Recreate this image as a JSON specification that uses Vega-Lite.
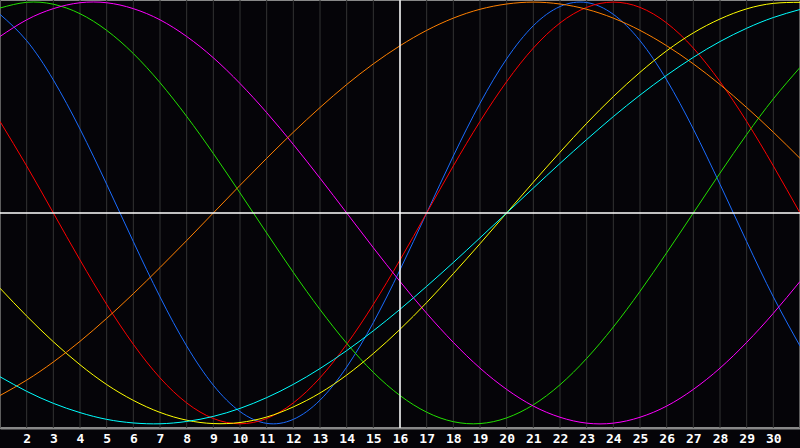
{
  "$schema": "https://vega.github.io/schema/vega-lite/v6.json",
  "width": 800,
  "height": 428,
  "padding": {"left": 0, "top": 0, "right": 0, "bottom": 20},
  "autosize": {"type": "none"},
  "background": "#050408",
  "config": {
    "view": {"stroke": "#888888", "strokeWidth": 2},
    "axis": {"labelOverlap": false, "labelFlush": false, "labelBound": false}
  },
  "encoding": {
    "x": {
      "field": "day", "type": "quantitative",
      "scale": {"domain": [1, 31], "nice": false, "zero": false},
      "axis": {
        "values": [2,3,4,5,6,7,8,9,10,11,12,13,14,15,16,17,18,19,20,21,22,23,24,25,26,27,28,29,30],
        "title": null, "ticks": false, "grid": false,
        "domainColor": "#888888", "domainWidth": 2,
        "labelColor": "#ffffff", "labelFont": "DejaVu Sans Mono", "labelFontWeight": "bold", "labelFontSize": 13,
        "labelPadding": 4, "labelFlush": false, "labelOverlap": false
      }
    }
  },
  "layer": [
    {
      "data": {"values": [
        {"day":1},{"day":2},{"day":3},{"day":4},{"day":5},{"day":6},{"day":7},{"day":8},{"day":9},{"day":10},{"day":11},{"day":12},{"day":13},{"day":14},{"day":15},{"day":16},
        {"day":17},{"day":18},{"day":19},{"day":20},{"day":21},{"day":22},{"day":23},{"day":24},{"day":25},{"day":26},{"day":27},{"day":28},{"day":29},{"day":30},{"day":31}
      ]},
      "mark": {"type": "rule", "color": "#333333", "strokeWidth": 1},
      "encoding": {}
    },
    {
      "data": {"values": [
        {"day":1,"cycle":"Physical","value":0.942},{"day":2,"cycle":"Physical","value":0.817},{"day":3,"cycle":"Physical","value":0.631},{"day":4,"cycle":"Physical","value":0.398},{"day":5,"cycle":"Physical","value":0.136},{"day":6,"cycle":"Physical","value":-0.136},{"day":7,"cycle":"Physical","value":-0.398},{"day":8,"cycle":"Physical","value":-0.631},{"day":9,"cycle":"Physical","value":-0.817},{"day":10,"cycle":"Physical","value":-0.942},{"day":11,"cycle":"Physical","value":-0.998},{"day":12,"cycle":"Physical","value":-0.979},{"day":13,"cycle":"Physical","value":-0.888},{"day":14,"cycle":"Physical","value":-0.731},{"day":15,"cycle":"Physical","value":-0.520},{"day":16,"cycle":"Physical","value":-0.270},{"day":17,"cycle":"Physical","value":0},{"day":18,"cycle":"Physical","value":0.270},{"day":19,"cycle":"Physical","value":0.520},{"day":20,"cycle":"Physical","value":0.731},{"day":21,"cycle":"Physical","value":0.888},{"day":22,"cycle":"Physical","value":0.979},{"day":23,"cycle":"Physical","value":0.998},{"day":24,"cycle":"Physical","value":0.942},{"day":25,"cycle":"Physical","value":0.817},{"day":26,"cycle":"Physical","value":0.631},{"day":27,"cycle":"Physical","value":0.398},{"day":28,"cycle":"Physical","value":0.136},{"day":29,"cycle":"Physical","value":-0.136},{"day":30,"cycle":"Physical","value":-0.398},{"day":31,"cycle":"Physical","value":-0.631},
        {"day":1,"cycle":"Emotional","value":0.434},{"day":2,"cycle":"Emotional","value":0.223},{"day":3,"cycle":"Emotional","value":0},{"day":4,"cycle":"Emotional","value":-0.223},{"day":5,"cycle":"Emotional","value":-0.434},{"day":6,"cycle":"Emotional","value":-0.623},{"day":7,"cycle":"Emotional","value":-0.782},{"day":8,"cycle":"Emotional","value":-0.901},{"day":9,"cycle":"Emotional","value":-0.975},{"day":10,"cycle":"Emotional","value":-1},{"day":11,"cycle":"Emotional","value":-0.975},{"day":12,"cycle":"Emotional","value":-0.901},{"day":13,"cycle":"Emotional","value":-0.782},{"day":14,"cycle":"Emotional","value":-0.623},{"day":15,"cycle":"Emotional","value":-0.434},{"day":16,"cycle":"Emotional","value":-0.223},{"day":17,"cycle":"Emotional","value":0},{"day":18,"cycle":"Emotional","value":0.223},{"day":19,"cycle":"Emotional","value":0.434},{"day":20,"cycle":"Emotional","value":0.623},{"day":21,"cycle":"Emotional","value":0.782},{"day":22,"cycle":"Emotional","value":0.901},{"day":23,"cycle":"Emotional","value":0.975},{"day":24,"cycle":"Emotional","value":1},{"day":25,"cycle":"Emotional","value":0.975},{"day":26,"cycle":"Emotional","value":0.901},{"day":27,"cycle":"Emotional","value":0.782},{"day":28,"cycle":"Emotional","value":0.623},{"day":29,"cycle":"Emotional","value":0.434},{"day":30,"cycle":"Emotional","value":0.223},{"day":31,"cycle":"Emotional","value":0},
        {"day":1,"cycle":"Intellectual","value":0.972},{"day":2,"cycle":"Intellectual","value":0.999},{"day":3,"cycle":"Intellectual","value":0.990},{"day":4,"cycle":"Intellectual","value":0.945},{"day":5,"cycle":"Intellectual","value":0.866},{"day":6,"cycle":"Intellectual","value":0.756},{"day":7,"cycle":"Intellectual","value":0.618},{"day":8,"cycle":"Intellectual","value":0.458},{"day":9,"cycle":"Intellectual","value":0.282},{"day":10,"cycle":"Intellectual","value":0.095},{"day":11,"cycle":"Intellectual","value":-0.095},{"day":12,"cycle":"Intellectual","value":-0.282},{"day":13,"cycle":"Intellectual","value":-0.458},{"day":14,"cycle":"Intellectual","value":-0.618},{"day":15,"cycle":"Intellectual","value":-0.756},{"day":16,"cycle":"Intellectual","value":-0.866},{"day":17,"cycle":"Intellectual","value":-0.945},{"day":18,"cycle":"Intellectual","value":-0.990},{"day":19,"cycle":"Intellectual","value":-0.999},{"day":20,"cycle":"Intellectual","value":-0.972},{"day":21,"cycle":"Intellectual","value":-0.910},{"day":22,"cycle":"Intellectual","value":-0.815},{"day":23,"cycle":"Intellectual","value":-0.690},{"day":24,"cycle":"Intellectual","value":-0.541},{"day":25,"cycle":"Intellectual","value":-0.372},{"day":26,"cycle":"Intellectual","value":-0.189},{"day":27,"cycle":"Intellectual","value":0},{"day":28,"cycle":"Intellectual","value":0.189},{"day":29,"cycle":"Intellectual","value":0.372},{"day":30,"cycle":"Intellectual","value":0.541},{"day":31,"cycle":"Intellectual","value":0.690},
        {"day":1,"cycle":"Intuitive","value":0.837},{"day":2,"cycle":"Intuitive","value":0.916},{"day":3,"cycle":"Intuitive","value":0.969},{"day":4,"cycle":"Intuitive","value":0.997},{"day":5,"cycle":"Intuitive","value":0.997},{"day":6,"cycle":"Intuitive","value":0.969},{"day":7,"cycle":"Intuitive","value":0.916},{"day":8,"cycle":"Intuitive","value":0.837},{"day":9,"cycle":"Intuitive","value":0.736},{"day":10,"cycle":"Intuitive","value":0.614},{"day":11,"cycle":"Intuitive","value":0.476},{"day":12,"cycle":"Intuitive","value":0.325},{"day":13,"cycle":"Intuitive","value":0.165},{"day":14,"cycle":"Intuitive","value":0},{"day":15,"cycle":"Intuitive","value":-0.165},{"day":16,"cycle":"Intuitive","value":-0.325},{"day":17,"cycle":"Intuitive","value":-0.476},{"day":18,"cycle":"Intuitive","value":-0.614},{"day":19,"cycle":"Intuitive","value":-0.736},{"day":20,"cycle":"Intuitive","value":-0.837},{"day":21,"cycle":"Intuitive","value":-0.916},{"day":22,"cycle":"Intuitive","value":-0.969},{"day":23,"cycle":"Intuitive","value":-0.997},{"day":24,"cycle":"Intuitive","value":-0.997},{"day":25,"cycle":"Intuitive","value":-0.969},{"day":26,"cycle":"Intuitive","value":-0.916},{"day":27,"cycle":"Intuitive","value":-0.837},{"day":28,"cycle":"Intuitive","value":-0.736},{"day":29,"cycle":"Intuitive","value":-0.614},{"day":30,"cycle":"Intuitive","value":-0.476},{"day":31,"cycle":"Intuitive","value":-0.325},
        {"day":1,"cycle":"Aesthetic","value":-0.357},{"day":2,"cycle":"Aesthetic","value":-0.489},{"day":3,"cycle":"Aesthetic","value":-0.611},{"day":4,"cycle":"Aesthetic","value":-0.720},{"day":5,"cycle":"Aesthetic","value":-0.814},{"day":6,"cycle":"Aesthetic","value":-0.889},{"day":7,"cycle":"Aesthetic","value":-0.946},{"day":8,"cycle":"Aesthetic","value":-0.983},{"day":9,"cycle":"Aesthetic","value":-0.999},{"day":10,"cycle":"Aesthetic","value":-0.994},{"day":11,"cycle":"Aesthetic","value":-0.968},{"day":12,"cycle":"Aesthetic","value":-0.920},{"day":13,"cycle":"Aesthetic","value":-0.854},{"day":14,"cycle":"Aesthetic","value":-0.769},{"day":15,"cycle":"Aesthetic","value":-0.667},{"day":16,"cycle":"Aesthetic","value":-0.552},{"day":17,"cycle":"Aesthetic","value":-0.425},{"day":18,"cycle":"Aesthetic","value":-0.288},{"day":19,"cycle":"Aesthetic","value":-0.146},{"day":20,"cycle":"Aesthetic","value":0},{"day":21,"cycle":"Aesthetic","value":0.146},{"day":22,"cycle":"Aesthetic","value":0.288},{"day":23,"cycle":"Aesthetic","value":0.425},{"day":24,"cycle":"Aesthetic","value":0.552},{"day":25,"cycle":"Aesthetic","value":0.667},{"day":26,"cycle":"Aesthetic","value":0.769},{"day":27,"cycle":"Aesthetic","value":0.854},{"day":28,"cycle":"Aesthetic","value":0.920},{"day":29,"cycle":"Aesthetic","value":0.968},{"day":30,"cycle":"Aesthetic","value":0.994},{"day":31,"cycle":"Aesthetic","value":0.999},
        {"day":1,"cycle":"Awareness","value":-0.866},{"day":2,"cycle":"Awareness","value":-0.793},{"day":3,"cycle":"Awareness","value":-0.707},{"day":4,"cycle":"Awareness","value":-0.609},{"day":5,"cycle":"Awareness","value":-0.5},{"day":6,"cycle":"Awareness","value":-0.383},{"day":7,"cycle":"Awareness","value":-0.259},{"day":8,"cycle":"Awareness","value":-0.131},{"day":9,"cycle":"Awareness","value":0},{"day":10,"cycle":"Awareness","value":0.131},{"day":11,"cycle":"Awareness","value":0.259},{"day":12,"cycle":"Awareness","value":0.383},{"day":13,"cycle":"Awareness","value":0.5},{"day":14,"cycle":"Awareness","value":0.609},{"day":15,"cycle":"Awareness","value":0.707},{"day":16,"cycle":"Awareness","value":0.793},{"day":17,"cycle":"Awareness","value":0.866},{"day":18,"cycle":"Awareness","value":0.924},{"day":19,"cycle":"Awareness","value":0.966},{"day":20,"cycle":"Awareness","value":0.991},{"day":21,"cycle":"Awareness","value":1},{"day":22,"cycle":"Awareness","value":0.991},{"day":23,"cycle":"Awareness","value":0.966},{"day":24,"cycle":"Awareness","value":0.924},{"day":25,"cycle":"Awareness","value":0.866},{"day":26,"cycle":"Awareness","value":0.793},{"day":27,"cycle":"Awareness","value":0.707},{"day":28,"cycle":"Awareness","value":0.609},{"day":29,"cycle":"Awareness","value":0.5},{"day":30,"cycle":"Awareness","value":0.383},{"day":31,"cycle":"Awareness","value":0.259},
        {"day":1,"cycle":"Spiritual","value":-0.777},{"day":2,"cycle":"Spiritual","value":-0.846},{"day":3,"cycle":"Spiritual","value":-0.903},{"day":4,"cycle":"Spiritual","value":-0.947},{"day":5,"cycle":"Spiritual","value":-0.979},{"day":6,"cycle":"Spiritual","value":-0.996},{"day":7,"cycle":"Spiritual","value":-1.000},{"day":8,"cycle":"Spiritual","value":-0.989},{"day":9,"cycle":"Spiritual","value":-0.965},{"day":10,"cycle":"Spiritual","value":-0.927},{"day":11,"cycle":"Spiritual","value":-0.876},{"day":12,"cycle":"Spiritual","value":-0.813},{"day":13,"cycle":"Spiritual","value":-0.738},{"day":14,"cycle":"Spiritual","value":-0.653},{"day":15,"cycle":"Spiritual","value":-0.559},{"day":16,"cycle":"Spiritual","value":-0.457},{"day":17,"cycle":"Spiritual","value":-0.348},{"day":18,"cycle":"Spiritual","value":-0.235},{"day":19,"cycle":"Spiritual","value":-0.118},{"day":20,"cycle":"Spiritual","value":0},{"day":21,"cycle":"Spiritual","value":0.118},{"day":22,"cycle":"Spiritual","value":0.235},{"day":23,"cycle":"Spiritual","value":0.348},{"day":24,"cycle":"Spiritual","value":0.457},{"day":25,"cycle":"Spiritual","value":0.559},{"day":26,"cycle":"Spiritual","value":0.653},{"day":27,"cycle":"Spiritual","value":0.738},{"day":28,"cycle":"Spiritual","value":0.813},{"day":29,"cycle":"Spiritual","value":0.876},{"day":30,"cycle":"Spiritual","value":0.927},{"day":31,"cycle":"Spiritual","value":0.965}
      ]},
      "mark": {"type": "line", "interpolate": "natural", "strokeWidth": 1, "clip": true},
      "encoding": {
        "y": {
          "field": "value", "type": "quantitative",
          "scale": {"domain": [-1.02, 1.01], "nice": false, "zero": false},
          "axis": null
        },
        "color": {
          "field": "cycle", "type": "nominal", "legend": null,
          "scale": {
            "domain": ["Physical", "Emotional", "Intellectual", "Intuitive", "Aesthetic", "Awareness", "Spiritual"],
            "range": ["#1a6cff", "#ff0000", "#22e000", "#ff00ff", "#ffff00", "#ff8000", "#00ffff"]
          }
        }
      }
    },
    {
      "data": {"values": [{"day": 16}]},
      "mark": {"type": "rule", "color": "#ffffff", "strokeWidth": 1.5},
      "encoding": {}
    },
    {
      "data": {"values": [{"day": 1, "value": 0}, {"day": 31, "value": 0}]},
      "mark": {"type": "line", "color": "#ffffff", "strokeWidth": 1.5},
      "encoding": {"y": {"field": "value", "type": "quantitative", "axis": null}}
    }
  ]
}
